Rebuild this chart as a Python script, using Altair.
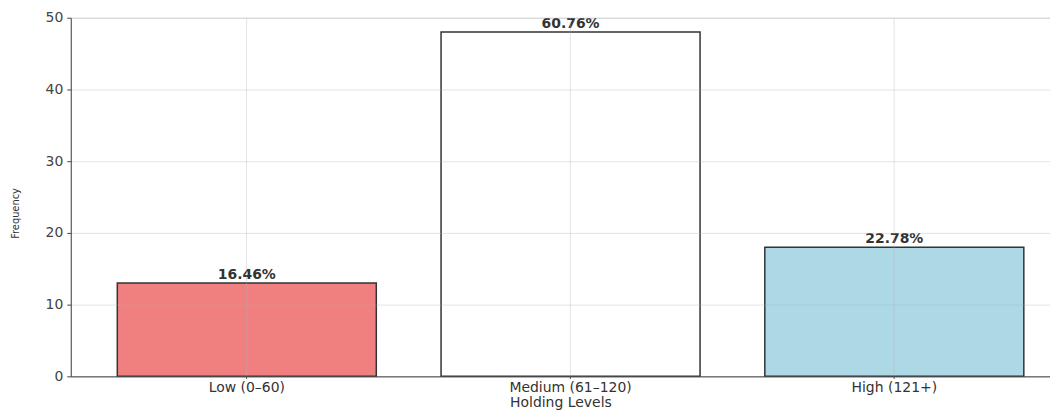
import altair as alt
import pandas as pd

levels = ["Low (0–60)", "Medium (61–120)", "High (121+)"]
frequency = [13, 48, 18]
pct_labels = ["16.46%", "60.76%", "22.78%"]
bar_colors = ["#F08080", "#FFFFFF", "#ADD8E6"]
y_ticks = [0, 10, 20, 30, 40, 50]

df = pd.DataFrame({"level": levels, "freq": frequency, "pct": pct_labels})

x_enc = alt.X(
    "level:N",
    sort=levels,
    title="Holding Levels",
    scale=alt.Scale(paddingInner=0.2, paddingOuter=0.1123, align=0.64),
    axis=alt.Axis(
        labelAngle=0,
        grid=True,
        bandPosition=0.5,
        gridColor="#b0b0b0",
        gridOpacity=0.35,
        domainColor="#444444",
        domainWidth=1,
        tickColor="#444444",
        tickSize=2,
        labelPadding=2,
        labelFont="DejaVu Sans",
        labelFontSize=14,
        labelColor="#333333",
        titleFont="DejaVu Sans",
        titleFontSize=14,
        titleFontWeight="normal",
        titleColor="#333333",
        titlePadding=1,
        zindex=1,
    ),
)

y_enc = alt.Y(
    "freq:Q",
    title="Frequency",
    scale=alt.Scale(domain=[0, 50], nice=False),
    axis=alt.Axis(
        values=y_ticks,
        grid=True,
        gridColor="#b0b0b0",
        gridOpacity=0.35,
        domainColor="#444444",
        tickColor="#444444",
        tickSize=4,
        labelPadding=4,
        labelFont="DejaVu Sans",
        labelFontSize=14,
        labelColor="#444444",
        titleFont="DejaVu Sans Condensed",
        titleFontSize=11,
        titleFontWeight="normal",
        titleColor="#333333",
        titleX=-50,
        titleY=196,
        zindex=1,
    ),
)

bars = alt.Chart(df).mark_bar(
    stroke="#333333", strokeWidth=1.5, opacity=1
).encode(
    x=x_enc,
    y=y_enc,
    color=alt.Color("level:N", scale=alt.Scale(domain=levels, range=bar_colors), legend=None),
)

labels = alt.Chart(df).mark_text(
    baseline="bottom", dy=-1, font="DejaVu Sans", fontSize=14, fontWeight="bold", color="#333333"
).encode(
    x=alt.X("level:N", sort=levels),
    y=alt.Y("freq:Q"),
    text="pct:N",
)

chart = (
    alt.layer(bars, labels)
    .properties(width=983, height=360, padding={"left": 2, "top": 2, "right": 0, "bottom": 0})
    .configure_view(stroke=None)
    .configure(background="white")
)

chart.save("out.html", embed_options={"renderer": "svg", "actions": False})
